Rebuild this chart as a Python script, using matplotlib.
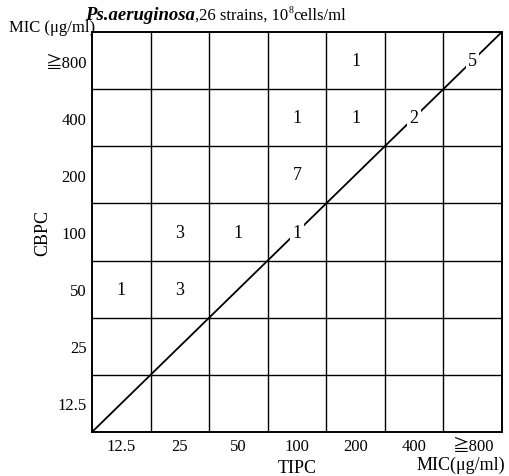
import numpy as np
import matplotlib.pyplot as plt

plt.rcParams['font.family'] = ['Liberation Serif', 'Noto Sans CJK JP', 'DejaVu Sans']

# MIC categories (µg/ml)
tipc_levels = ["12.5", "25", "50", "100", "200", "400", "≧800"]
cbpc_levels = ["12.5", "25", "50", "100", "200", "400", "≧800"]

# strain counts: (TIPC index, CBPC index, count)
tipc_idx = [0, 1, 1, 2, 3, 3, 3, 4, 4, 5, 6]
cbpc_idx = [2, 3, 2, 3, 3, 4, 5, 5, 6, 5, 6]
counts = [1, 3, 3, 1, 1, 7, 1, 1, 1, 2, 5]

fig = plt.figure(figsize=(5.1, 4.77), dpi=100)
ax = fig.add_axes([0.1804, 0.0922, 0.8036, 0.8386])
n = len(tipc_levels)
ax.set_xlim(0, n)
ax.set_ylim(0, n)

for k in range(1, n):
    ax.axvline(k, color='black', lw=1.0)
    ax.axhline(k, color='black', lw=1.0)
for s in ax.spines.values():
    s.set_linewidth(1.4)

ax.plot([0, n], [0, n], color='black', lw=1.3)

for i, j, c in zip(tipc_idx, cbpc_idx, counts):
    on_diag = i == j
    ax.text(i + 0.5, j + 0.5, str(c), ha='center', va='center', fontsize=13,
            bbox=dict(facecolor='white', edgecolor='none', pad=1.5) if on_diag else None)

ax.set_xticks(np.arange(n) + 0.5)
ax.set_xticklabels(tipc_levels, fontsize=12)
ax.set_yticks(np.arange(n) + 0.5)
ax.set_yticklabels(cbpc_levels, fontsize=12)
ax.tick_params(length=0, pad=4)

ax.set_xlabel("TIPC", fontsize=13, labelpad=4)
ax.set_ylabel("CBPC", fontsize=13)
ax.yaxis.set_label_coords(-0.1, 0.5)

# title pieces placed one after another
t1 = fig.text(0.167, 0.958, "Ps.aeruginosa", fontsize=13.5, style='italic', weight='bold')
fig.canvas.draw()
bb = t1.get_window_extent().transformed(fig.transFigure.inverted())
t2 = fig.text(bb.x1, 0.958, ",26 strains, 10", fontsize=12)
fig.canvas.draw()
bb = t2.get_window_extent().transformed(fig.transFigure.inverted())
t3 = fig.text(bb.x1, 0.972, "8", fontsize=7)
fig.canvas.draw()
bb = t3.get_window_extent().transformed(fig.transFigure.inverted())
fig.text(bb.x1, 0.958, "cells/ml", fontsize=12)

fig.text(0.187, 0.933, "MIC (μg/ml)", fontsize=12, ha='right')
fig.text(0.99, 0.015, "MIC(μg/ml)", fontsize=13, ha='right')

fig.savefig("out.png", dpi=100)
